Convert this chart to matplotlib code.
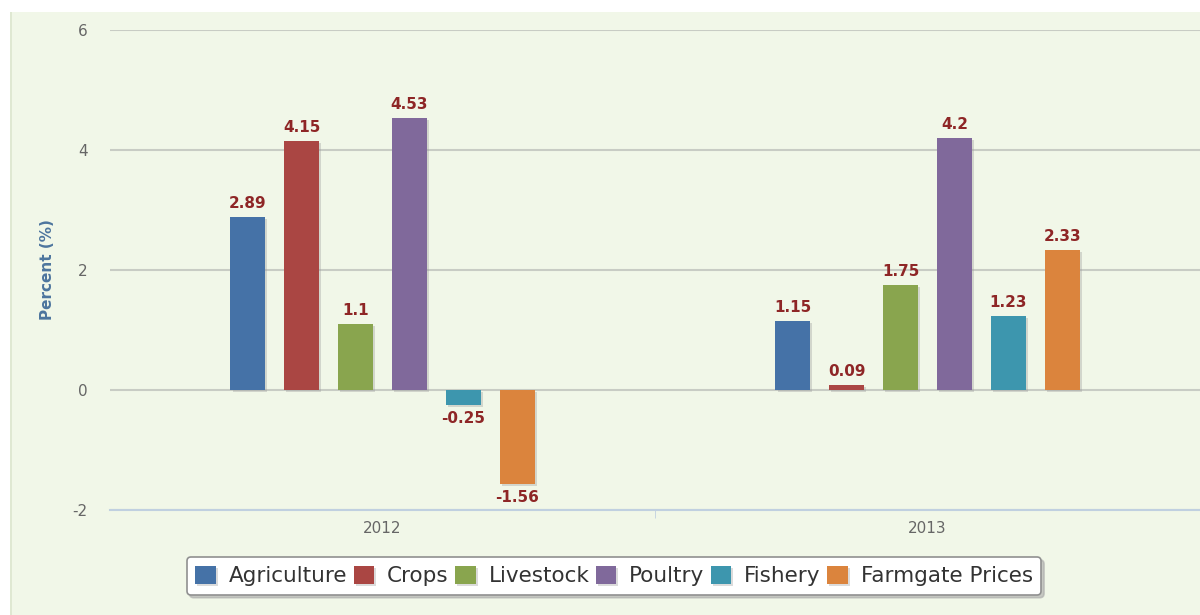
import matplotlib.pyplot as plt
import matplotlib.patheffects as pe
import numpy as np
from matplotlib.patches import Rectangle

years = ['2012', '2013']
series = ['Agriculture', 'Crops', 'Livestock', 'Poultry', 'Fishery', 'Farmgate Prices']
values = {
  'Agriculture': [2.89, 1.15],
  'Crops': [4.15, 0.09],
  'Livestock': [1.1, 1.75],
  'Poultry': [4.53, 4.2],
  'Fishery': [-0.25, 1.23],
  'Farmgate Prices': [-1.56, 2.33],
}
colors = ['#4572A7', '#AA4643', '#89A54E', '#80699B', '#3D96AE', '#DB843D']
yticks = [-2, 0, 2, 4, 6]

BG = '#f1f7e8'
LABEL_COLOR = '#8e2626'

fig = plt.figure(figsize=(12, 6.15), dpi=100, facecolor='white')
fig.patches.append(Rectangle((10 / 1200, 0), 1, 1 - 12 / 615, transform=fig.transFigure,
                             facecolor=BG, edgecolor='none', zorder=-10))
fig.patches.append(Rectangle((10 / 1200, 0), 1.5 / 1200, 1 - 12 / 615, transform=fig.transFigure,
                             facecolor='#dfe8d2', edgecolor='none', zorder=-9))

ax = fig.add_axes([110 / 1200, 1 - 510 / 615, 1 - 110 / 1200, 480 / 615])
ax.set_facecolor('none')

x = np.arange(len(years))
step = 0.099
width = 0.063
shadow = [pe.SimplePatchShadow(offset=(1.5, -1.5), shadow_rgbFace='#999999', alpha=0.35), pe.Normal()]

handles = []
for i, (name, color) in enumerate(zip(series, colors)):
  pos = x + (i - 2.5) * step
  bars = ax.bar(pos, values[name], width=width, color=color, zorder=3, label=name)
  for b in bars:
    b.set_path_effects(shadow)
  handles.append(bars)
  for px, v in zip(pos, values[name]):
    if v >= 0:
      ax.text(px, v + 0.1, f'{v:g}', ha='center', va='bottom', fontsize=11,
              color=LABEL_COLOR, fontweight='semibold', zorder=4)
    else:
      ax.text(px, v - 0.1, f'-{abs(v):g}', ha='center', va='top', fontsize=11,
              color=LABEL_COLOR, fontweight='semibold', zorder=4)

ax.set_xlim(-0.5, 1.5)
ax.set_ylim(-2, 6)
ax.set_yticks(yticks)
ax.set_yticklabels([str(t) for t in yticks])
ax.set_xticks(x)
ax.set_xticklabels(years)
ax.set_xticks([0.5], minor=True)
ax.tick_params(axis='x', which='major', length=0, pad=8, labelsize=11, labelcolor='#666666')
ax.tick_params(axis='x', which='minor', length=6, color='#c0d0e0', direction='out')
ax.tick_params(axis='y', length=0, pad=16, labelsize=11, labelcolor='#666666')

ax.grid(axis='y', color='#c8ccc4', linewidth=1.5, zorder=1)
for side in ['top', 'right', 'left']:
  ax.spines[side].set_visible(False)
ax.spines['bottom'].set_color('#c0d0e0')
ax.spines['bottom'].set_linewidth(1.5)

fig.text(47 / 1200, 1 - 270 / 615, 'Percent (%)', rotation=90, ha='center', va='center',
         fontsize=11, fontweight='bold', color='#4d759e')

leg = fig.legend(handles=handles, labels=series, loc='center', ncol=6,
                 bbox_to_anchor=(614 / 1200, 1 - 576 / 615), frameon=True, fontsize=15.5,
                 handlelength=0.95, handleheight=0.95, handletextpad=0.6, columnspacing=0.3,
                 borderpad=0.4, fancybox=True, shadow={'color': '#aaaaaa', 'alpha': 0.6},
                 labelcolor='#333333')
leg.get_frame().set_edgecolor('#909090')
leg.get_frame().set_linewidth(1.2)
leg.get_frame().set_facecolor('white')

plt.savefig('out.png', dpi=100, facecolor='white')
plt.close()
